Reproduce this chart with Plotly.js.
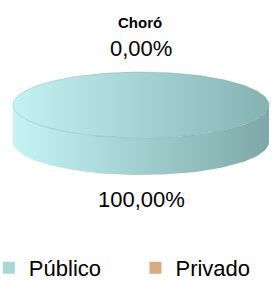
<!DOCTYPE html>
<html>
<head>
<meta charset="utf-8">
<script src="https://cdn.plot.ly/plotly-3.0.1.min.js"></script>
<style>html,body{margin:0;padding:0;background:#fff;}#chart{width:272px;height:283px;}</style>
</head>
<body>
<div id="chart"></div>
<script>
// ---- data ----
var chartTitle = 'Choró';
var categories = ['Público', 'Privado'];
var values = [100, 0];

// ---- style / geometry (not data) ----
var W = 272, H = 283;
var CX = 141, CY = 105, RA = 128, RB = 33, DEPTH = 37, LABEL_OFF = 24;
var topScales = [
  [[0, '#c4f2f2'], [1, '#86b2b2']],
  [[0, '#ebc39c'], [1, '#c08e62']]
];
var wallScales = [
  [[0, '#c6f4f4'], [1, '#7ea8a8']],
  [[0, '#efc7a0'], [1, '#b8885c']]
];
var legendColors = ['#a9d6d6', '#d9ab80'];
var legendX = [-0.041, 0.498];
var FONT = 'Liberation Sans, Arial, sans-serif';

function pt(theta, dy) {
  var r = theta * Math.PI / 180;
  return [CX + RA * Math.sin(r), CY - RB * Math.cos(r) + (dy || 0)];
}
function arc(t1, t2, dy) {
  var pts = [], n = Math.max(2, Math.ceil(Math.abs(t2 - t1) / 2));
  for (var i = 0; i <= n; i++) pts.push(pt(t1 + (t2 - t1) * i / n, dy));
  return pts;
}
function fmt(v) { return v.toFixed(2).replace('.', ',') + '%'; }

var total = values.reduce(function (s, v) { return s + v; }, 0);
var traces = [], tops = [], annotations = [];
var start = 0;
values.forEach(function (v, i) {
  var share = v / total;
  var t1 = start, t2 = start + share * 360;
  start = t2;
  if (share > 0) {
    var lo = Math.max(t1, 90), hi = Math.min(t2, 270);
    if (hi > lo) {
      var w = arc(lo, hi, 0).concat(arc(hi, lo, DEPTH));
      traces.push({
        type: 'scatter', mode: 'lines', x: w.map(function (p) { return p[0]; }), y: w.map(function (p) { return p[1]; }),
        fill: 'toself', fillgradient: {type: 'horizontal', colorscale: wallScales[i]},
        line: {width: 0, color: 'rgba(0,0,0,0)'}, hoverinfo: 'skip', showlegend: false
      });
    }
    var tp = share >= 1 ? arc(0, 360, 0) : [[CX, CY]].concat(arc(t1, t2, 0), [[CX, CY]]);
    tops.push({
      type: 'scatter', mode: 'lines', x: tp.map(function (p) { return p[0]; }), y: tp.map(function (p) { return p[1]; }),
      fill: 'toself', fillgradient: {type: 'horizontal', colorscale: topScales[i]},
      line: {width: 0.6, color: 'rgba(120,160,160,0.6)'}, hoverinfo: 'skip', showlegend: false
    });
  }
  var mid = (t1 + t2) / 2;
  var r = mid * Math.PI / 180;
  var lx = CX + (RA + LABEL_OFF) * Math.sin(r);
  var ly = CY - (RB + LABEL_OFF) * Math.cos(r) + (Math.cos(r) < 0 ? DEPTH : 0);
  annotations.push({
    x: lx, y: ly, xref: 'x', yref: 'y', text: fmt(share * 100), showarrow: false,
    font: {family: FONT, size: 22, color: '#000'}, xanchor: 'center', yanchor: 'middle'
  });
});
traces = traces.concat(tops);
categories.forEach(function (c, i) {
  traces.push({
    type: 'scatter', mode: 'markers', x: [null], y: [null], name: c,
    legend: i === 0 ? 'legend' : 'legend' + (i + 1),
    marker: {symbol: 'square', size: 12, color: legendColors[i]}, hoverinfo: 'skip'
  });
});

function legendDef(x) {
  return {orientation: 'h', x: x, xanchor: 'left', y: 1 - 268 / H, yanchor: 'middle',
          font: {family: FONT, size: 22, color: '#000'}, bgcolor: 'rgba(0,0,0,0)'};
}
var layout = {
  width: W, height: H, margin: {l: 0, r: 0, t: 0, b: 0, autoexpand: false},
  paper_bgcolor: '#fff', plot_bgcolor: '#fff',
  title: {text: '<b>' + chartTitle + '</b>', x: 0.515, xanchor: 'center', y: 1 - 23 / H, yanchor: 'middle',
          font: {family: FONT, size: 15, color: '#000'}},
  xaxis: {range: [0, W], visible: false, fixedrange: true},
  yaxis: {range: [H, 0], visible: false, fixedrange: true},
  showlegend: true,
  legend: legendDef(legendX[0]),
  legend2: legendDef(legendX[1]),
  annotations: annotations
};
Plotly.newPlot('chart', traces, layout, {displayModeBar: false, staticPlot: true});
</script>
</body>
</html>
